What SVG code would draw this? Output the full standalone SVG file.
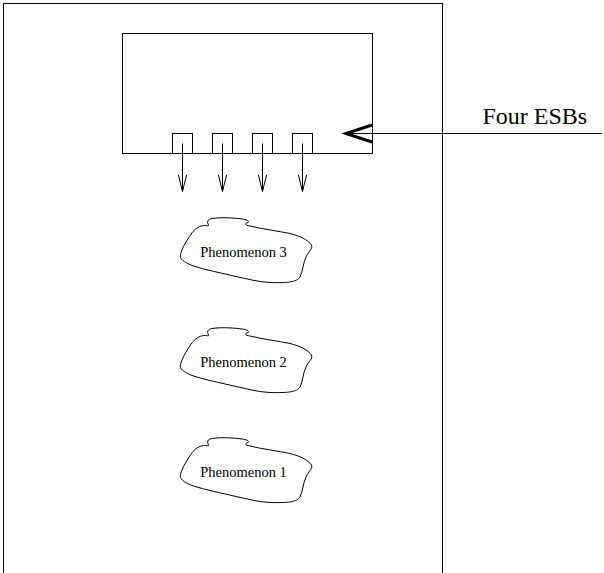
<svg xmlns="http://www.w3.org/2000/svg" xmlns:xlink="http://www.w3.org/1999/xlink" width="604" height="573" viewBox="0 0 604 573">
<style>
.ln{fill:none;stroke:#000;stroke-width:1}
.lbl{font-family:"Liberation Serif","Times New Roman",serif;fill:#000}
.ph{font-size:14.5px;text-anchor:middle}
</style>
<defs>
<marker id="vhead" markerWidth="20" markerHeight="10" refX="17" refY="5" orient="auto" markerUnits="userSpaceOnUse" viewBox="0 0 20 10">
<path d="M0,0.8 L17,5 L0,9.2" fill="none" stroke="#000" stroke-width="1"/>
</marker>
<path id="cloud" d="M180.5,254.5 C182,248 188,238 193,231.5 C196,228 200,226 203.5,225.5 C207,225 209,227 208.5,225 C207,222 207,219.5 212,218.5 C222,217 235,218 242,219 C249,220 250,222 247,223 C244,224 246,225.5 250,226 C262,229 278,231 290,233.5 C300,236 308,240 311.5,245 C313,249 308,252 306,257 C303,263 303,271 300,277 C297,282 288,283 270,282.5 C258,282 248,279 236,276.5 C222,273 205,270 192,265.5 C184,262 179,259 180.5,254.5 Z"/>
</defs>
<rect id="frame" class="ln" x="3.5" y="3.5" width="439" height="600"/>
<g id="esb_panel">
<rect class="ln" x="122.5" y="33.5" width="250" height="120"/>
</g>
<g id="esb1"><rect class="ln" x="172.5" y="133.5" width="20" height="20"/></g>
<g id="esb2"><rect class="ln" x="212.5" y="133.5" width="20" height="20"/></g>
<g id="esb3"><rect class="ln" x="252.5" y="133.5" width="20" height="20"/></g>
<g id="esb4"><rect class="ln" x="292.5" y="133.5" width="20" height="20"/></g>
<g id="label_four_esbs">
<text class="lbl" x="482.5" y="124" font-size="24">Four ESBs</text>
</g>
<g id="phenomenon3">
<use xlink:href="#cloud" class="ln"/>
<text class="lbl ph" x="243.5" y="256.5">Phenomenon 3</text>
</g>
<g id="phenomenon2">
<use xlink:href="#cloud" class="ln" transform="translate(0,110)"/>
<text class="lbl ph" x="243.5" y="366.5">Phenomenon 2</text>
</g>
<g id="phenomenon1">
<use xlink:href="#cloud" class="ln" transform="translate(0,220)"/>
<text class="lbl ph" x="243.5" y="476.5">Phenomenon 1</text>
</g>
<g id="connectors">
<line class="ln" x1="182.5" y1="143.5" x2="182.5" y2="191.5" marker-end="url(#vhead)"/>
<line class="ln" x1="222.5" y1="143.5" x2="222.5" y2="191.5" marker-end="url(#vhead)"/>
<line class="ln" x1="262.5" y1="143.5" x2="262.5" y2="191.5" marker-end="url(#vhead)"/>
<line class="ln" x1="302.5" y1="143.5" x2="302.5" y2="191.5" marker-end="url(#vhead)"/>
<line class="ln" x1="602" y1="133.5" x2="346" y2="133.5"/>
<path d="M372,125 L346,133.5 L372,142" fill="none" stroke="#000" stroke-width="3"/>
</g>
</svg>
